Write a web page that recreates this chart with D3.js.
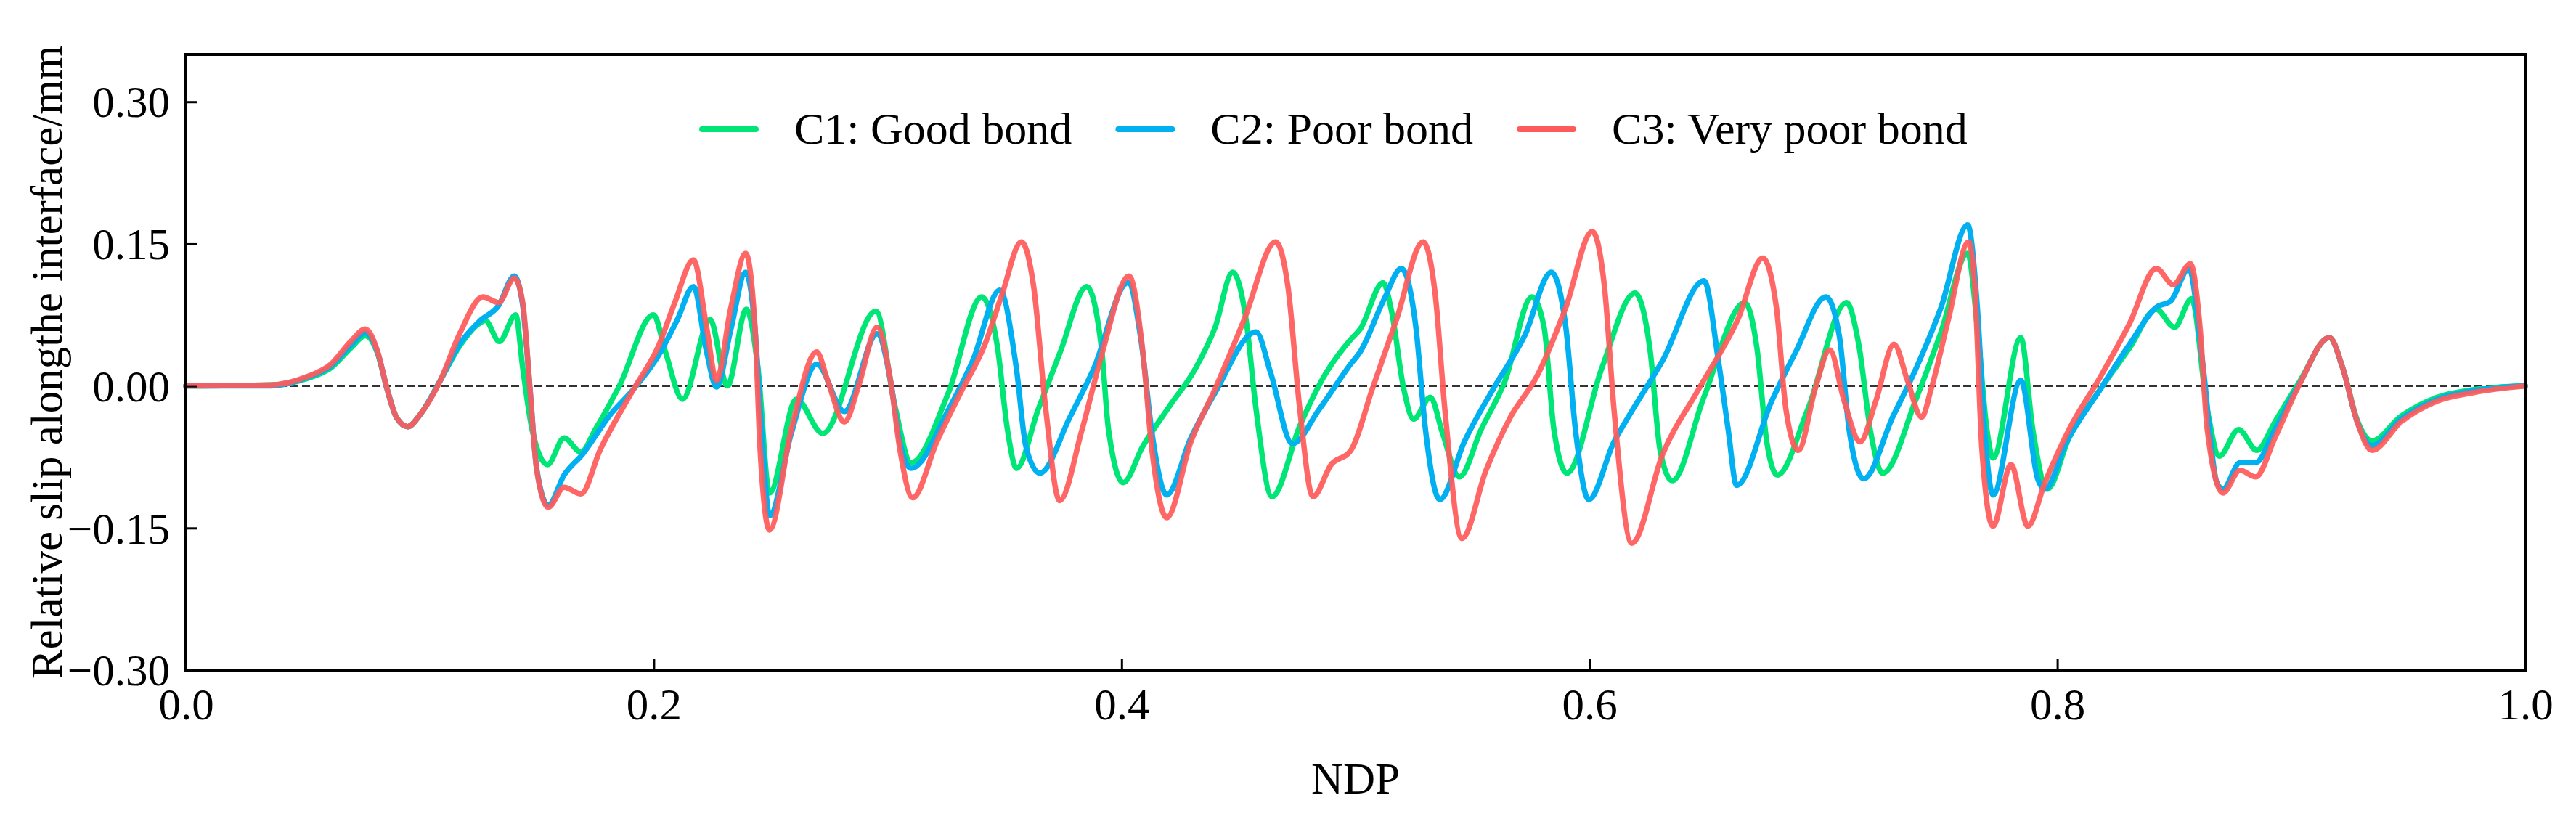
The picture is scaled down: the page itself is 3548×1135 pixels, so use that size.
<!DOCTYPE html>
<head>
<meta charset="utf-8">
<title>Relative slip along the interface</title>
<style>
body { margin: 0; background: #fff; }
text { font-family: "Liberation Serif", "Times New Roman", serif; fill: #000; }
.axis path { display: none; }
.axis line { stroke: #000; stroke-width: 3; }
.axis text { font-size: 61px; }
.curve { fill: none; stroke-width: 7.5; stroke-linejoin: round; stroke-linecap: round; }
</style>
</head>
<body>
<script src="https://d3js.org/d3.v7.min.js"></script>
<script>

// Data: [NDP, slip in mm]
var c1 = [[0,0],[0.036,0.001],[0.052,0.008],[0.062,0.019],[0.0705,0.040],[0.0767,0.053],[0.082,0.034],[0.086,-0.003],
  [0.090,-0.033],[0.0948,-0.043],[0.1005,-0.029],[0.1088,0.006],[0.117,0.042],[0.1254,0.066],[0.128,0.069],[0.134,0.047],
  [0.141,0.075],[0.144,0.019],[0.148,-0.046],[0.1546,-0.083],[0.1617,-0.055],[0.1689,-0.070],[0.175,-0.046],[0.1853,0.0],
  [0.1999,0.075],[0.205,0.036],[0.2123,-0.014],[0.2241,0.070],[0.2315,0.0],[0.2396,0.081],[0.2445,0.020],[0.2495,-0.113],
  [0.261,-0.014],[0.2722,-0.050],[0.2950,0.079],[0.303,-0.020],[0.310,-0.081],[0.326,-0.007],[0.3402,0.094],[0.347,0.040],
  [0.3512,-0.046],[0.3551,-0.087],[0.3643,-0.025],[0.3738,0.036],[0.3851,0.105],[0.3914,0.040],[0.3944,-0.046],[0.4007,-0.102],
  [0.409,-0.064],[0.4203,-0.022],[0.4317,0.019],[0.440,0.062],[0.4475,0.120],[0.4532,0.070],[0.4575,-0.025],[0.4643,-0.117],
  [0.4762,-0.042],[0.4865,0.010],[0.4979,0.049],[0.502,0.060],[0.5118,0.109],[0.5154,0.079],[0.5206,-0.003],[0.5248,-0.035],
  [0.532,-0.012],[0.5372,-0.050],[0.5444,-0.096],[0.5537,-0.046],[0.564,0.006],[0.5754,0.094],[0.5806,0.062],[0.5848,-0.046],
  [0.5904,-0.092],[0.6053,0.019],[0.6195,0.098],[0.626,0.036],[0.6302,-0.068],[0.6354,-0.100],[0.6489,-0.012],[0.6664,0.088],
  [0.6716,0.040],[0.6758,-0.059],[0.6803,-0.094],[0.6933,-0.025],[0.7099,0.088],[0.7151,0.044],[0.7203,-0.050],[0.7253,-0.092],
  [0.7399,-0.012],[0.7503,0.057],[0.7617,0.140],[0.7658,0.062],[0.7699,-0.046],[0.7725,-0.076],[0.7844,0.051],[0.7895,-0.046],
  [0.7957,-0.109],[0.805,-0.055],[0.8185,-0.003],[0.8309,0.040],[0.8423,0.081],[0.8501,0.062],[0.8574,0.092],[0.8641,-0.025],
  [0.8693,-0.074],[0.8775,-0.046],[0.8853,-0.068],[0.893,-0.038],[0.9034,0.004],[0.9163,0.051],[0.922,0.019],[0.9282,-0.036],
  [0.9345,-0.058],[0.9469,-0.032],[0.9624,-0.012],[0.9779,-0.004],[1,0]];

var c2 = [[0,0],[0.036,0.0],[0.052,0.009],[0.062,0.021],[0.0705,0.043],[0.0767,0.056],[0.082,0.035],[0.086,-0.003],
  [0.090,-0.033],[0.0948,-0.043],[0.1005,-0.029],[0.1088,0.006],[0.117,0.044],[0.1254,0.068],[0.1337,0.085],[0.1404,0.116],
  [0.144,0.085],[0.147,0.0],[0.150,-0.088],[0.1549,-0.126],[0.1617,-0.094],[0.1696,-0.072],[0.1812,-0.031],[0.1915,-0.003],
  [0.202,0.032],[0.2101,0.070],[0.217,0.105],[0.2226,0.036],[0.2268,-0.001],[0.233,0.060],[0.2393,0.120],[0.2433,0.060],
  [0.2462,-0.050],[0.2495,-0.137],[0.2588,-0.050],[0.2697,0.023],[0.2815,-0.027],[0.2955,0.055],[0.3012,0.006],[0.3053,-0.060],
  [0.310,-0.087],[0.326,-0.025],[0.3364,0.027],[0.3479,0.101],[0.355,0.019],[0.3591,-0.064],[0.365,-0.092],[0.3779,-0.033],
  [0.3882,0.019],[0.4027,0.109],[0.4085,0.045],[0.413,-0.050],[0.4193,-0.115],[0.4296,-0.055],[0.440,-0.007],[0.4575,0.057],
  [0.4637,0.014],[0.473,-0.061],[0.4844,-0.025],[0.4979,0.023],[0.502,0.036],[0.5123,0.092],[0.5196,0.124],[0.5258,0.062],
  [0.5299,-0.046],[0.536,-0.120],[0.5465,-0.059],[0.5589,-0.003],[0.5723,0.053],[0.5837,0.120],[0.5899,0.062],[0.594,-0.046],
  [0.5997,-0.120],[0.6105,-0.059],[0.6158,-0.036],[0.6313,0.027],[0.649,0.111],[0.6551,0.027],[0.6593,-0.046],[0.6629,-0.105],
  [0.6779,-0.016],[0.6882,0.036],[0.7011,0.094],[0.7068,0.053],[0.711,-0.046],[0.7172,-0.098],[0.7296,-0.033],[0.7399,0.020],
  [0.7503,0.083],[0.7617,0.170],[0.7658,0.083],[0.7689,-0.046],[0.7725,-0.115],[0.7844,0.006],[0.7916,-0.098],[0.7947,-0.109],
  [0.804,-0.059],[0.8185,-0.003],[0.8309,0.044],[0.8423,0.083],[0.8486,0.090],[0.8563,0.124],[0.862,0.027],[0.8682,-0.102],
  [0.8708,-0.109],[0.8781,-0.081],[0.8848,-0.081],[0.893,-0.046],[0.9034,0.002],[0.9163,0.051],[0.922,0.019],[0.9282,-0.038],
  [0.9345,-0.063],[0.9469,-0.035],[0.9624,-0.014],[0.9779,-0.005],[1,0]];

var c3 = [[0,0],[0.036,0.001],[0.052,0.010],[0.062,0.023],[0.0705,0.047],[0.0767,0.060],[0.082,0.036],[0.086,-0.003],
  [0.090,-0.033],[0.0948,-0.043],[0.1005,-0.029],[0.1088,0.006],[0.117,0.055],[0.127,0.094],[0.1337,0.088],[0.1404,0.114],
  [0.144,0.088],[0.147,0.0],[0.150,-0.089],[0.1549,-0.128],[0.1617,-0.107],[0.1689,-0.114],[0.177,-0.068],[0.1915,-0.003],
  [0.202,0.042],[0.209,0.088],[0.217,0.133],[0.2226,0.062],[0.2268,0.006],[0.233,0.083],[0.2393,0.140],[0.2433,0.062],
  [0.2455,-0.068],[0.2495,-0.152],[0.2588,-0.046],[0.2697,0.036],[0.2743,0.006],[0.2815,-0.038],[0.2877,0.001],[0.2955,0.062],
  [0.3012,0.006],[0.3053,-0.068],[0.3107,-0.118],[0.321,-0.059],[0.3312,-0.007],[0.3416,0.044],[0.3488,0.096],[0.3572,0.152],
  [0.3624,0.105],[0.3676,-0.025],[0.3735,-0.121],[0.3831,-0.046],[0.3914,0.032],[0.4032,0.116],[0.4089,0.040],[0.413,-0.068],
  [0.4193,-0.139],[0.4296,-0.059],[0.440,-0.003],[0.4524,0.070],[0.4659,0.152],[0.4711,0.105],[0.4762,-0.025],[0.4818,-0.117],
  [0.4896,-0.083],[0.498,-0.068],[0.5072,-0.003],[0.5175,0.070],[0.5289,0.152],[0.5341,0.096],[0.5382,-0.025],[0.5455,-0.161],
  [0.5558,-0.089],[0.5662,-0.033],[0.5775,0.010],[0.5899,0.083],[0.6012,0.163],[0.6064,0.105],[0.6105,-0.025],[0.6181,-0.166],
  [0.6313,-0.072],[0.6468,-0.003],[0.6634,0.070],[0.6741,0.135],[0.6799,0.083],[0.684,-0.025],[0.6893,-0.068],[0.6965,-0.003],
  [0.7027,0.038],[0.7089,-0.016],[0.7157,-0.059],[0.7224,-0.016],[0.7302,0.044],[0.7359,0.006],[0.742,-0.033],[0.7461,-0.003],
  [0.7534,0.070],[0.7621,0.152],[0.7647,0.105],[0.7678,-0.068],[0.7725,-0.148],[0.7802,-0.083],[0.7874,-0.148],[0.7947,-0.102],
  [0.805,-0.046],[0.8185,0.010],[0.8309,0.066],[0.8423,0.124],[0.8496,0.107],[0.8569,0.129],[0.861,0.062],[0.8641,-0.046],
  [0.8708,-0.113],[0.8781,-0.089],[0.8848,-0.096],[0.893,-0.055],[0.9034,0.001],[0.9163,0.051],[0.922,0.019],[0.9282,-0.038],
  [0.9345,-0.068],[0.9469,-0.038],[0.9624,-0.016],[0.9779,-0.007],[1,0]];

var seriesNames = ["C1: Good bond", "C2: Poor bond", "C3: Very poor bond"];
var seriesColors = ["#00e676", "#00b0f0", "#ff5a5a"];
var xTicks = [0, 0.2, 0.4, 0.6, 0.8, 1.0];
var yTicks = [-0.30, -0.15, 0, 0.15, 0.30];

// Set graph margins and dimensions
var W = 3548, H = 1135;
var margin = {top: 75, right: 70, bottom: 212, left: 256},
    width = W - margin.left - margin.right,
    height = H - margin.top - margin.bottom;

var x = d3.scaleLinear().domain([0, 1]).range([0, width]);
var y = d3.scaleLinear().domain([-0.30, 0.35]).range([height, 0]);

var svg = d3.select("body").append("svg")
    .attr("width", W)
    .attr("height", H)
  .append("g")
    .attr("transform", "translate(" + margin.left + "," + margin.top + ")");

// zero reference line
svg.append("line")
    .attr("x1", x(0)).attr("x2", x(1))
    .attr("y1", y(0)).attr("y2", y(0))
    .attr("stroke", "#333")
    .attr("stroke-width", 3)
    .attr("stroke-dasharray", "11,5");

// curves
var line = d3.line()
    .x(function(d) { return x(d[0]); })
    .y(function(d) { return y(d[1]); })
    .curve(d3.curveMonotoneX);

[c1, c2, c3].forEach(function(s, i) {
  svg.append("path")
      .datum(s)
      .attr("class", "curve")
      .attr("stroke", seriesColors[i])
      .attr("stroke-opacity", i == 2 ? 0.92 : 1)
      .attr("d", line);
});

// axes, ticks pointing inward
var minus = function(v) { return d3.format(".2f")(v).replace("-", "\u2212"); };

svg.append("g")
    .attr("class", "axis")
    .attr("transform", "translate(0," + height + ")")
    .call(d3.axisBottom(x).tickValues(xTicks).tickSize(-15).tickPadding(25).tickFormat(d3.format(".1f")));

svg.append("g")
    .attr("class", "axis")
    .call(d3.axisLeft(y).tickValues(yTicks).tickSize(-16).tickPadding(22).tickFormat(minus))
  .selectAll("text")
    .attr("dy", "0.34em");

// frame
svg.append("rect")
    .attr("width", width)
    .attr("height", height)
    .attr("fill", "none")
    .attr("stroke", "#000")
    .attr("stroke-width", 4);

// axis titles
svg.append("text")
    .attr("x", width / 2)
    .attr("y", 1093 - margin.top)
    .attr("text-anchor", "middle")
    .style("font-size", "61px")
    .text("NDP");

svg.append("text")
    .attr("transform", "translate(" + (85 - margin.left) + "," + (height / 2) + ")rotate(-90)")
    .attr("text-anchor", "middle")
    .style("font-size", "61px")
    .text("Relative slip alongthe interface/mm");

// legend
var legend = svg.append("g").attr("transform", "translate(" + (967 - margin.left) + "," + (178 - margin.top) + ")");
var lx = 0;
seriesNames.forEach(function(name, i) {
  legend.append("line")
      .attr("x1", lx).attr("x2", lx + 74)
      .attr("y1", 0).attr("y2", 0)
      .attr("stroke", seriesColors[i])
      .attr("stroke-width", 8)
      .attr("stroke-linecap", "round");
  var t = legend.append("text")
      .attr("x", lx + 127)
      .attr("y", 20)
      .style("font-size", "62px")
      .text(name);
  lx = lx + 127 + t.node().getComputedTextLength() + 64;
});

</script>
</body>
</html>
